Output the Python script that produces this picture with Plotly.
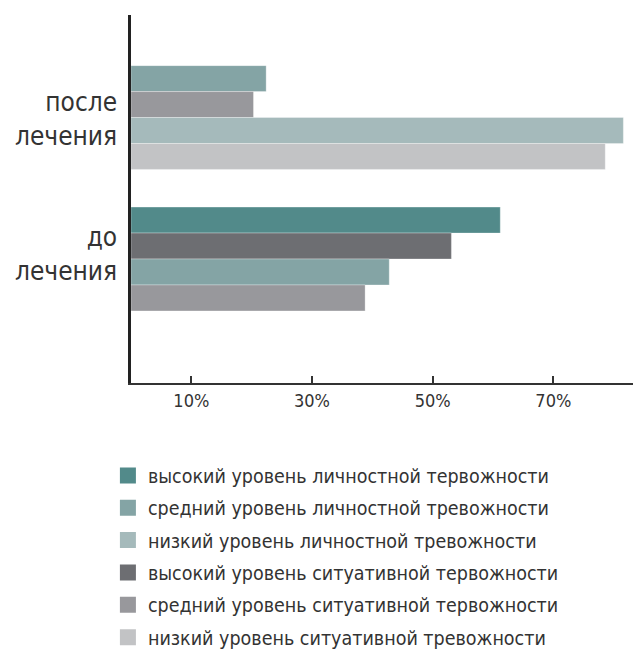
import plotly.graph_objects as go

categories = ["после лечения", "до лечения"]

# series in the order they are stacked inside each group (top to bottom)
series_names = [
    "высокий уровень личностной тервожности",
    "высокий уровень ситуативной тервожности",
    "средний уровень личностной тревожности",
    "средний уровень ситуативной тервожности",
    "низкий уровень личностной тревожности",
    "низкий уровень ситуативной тревожности",
]
# values for [после лечения, до лечения]
vals_high_pers = [0, 61.2]
vals_high_sit = [0, 53.1]
vals_mid_pers = [22.4, 42.8]
vals_mid_sit = [20.3, 38.8]
vals_low_pers = [81.6, 0]
vals_low_sit = [78.6, 0]
series_values = [vals_high_pers, vals_high_sit, vals_mid_pers, vals_mid_sit, vals_low_pers, vals_low_sit]
colors = ["#528a8a", "#6d6e72", "#84a4a5", "#98989c", "#a5babb", "#c2c3c5"]
legend_ranks = [1, 4, 2, 5, 3, 6]

tick_vals = [10, 30, 50, 70]
tick_text = ["10%", "30%", "50%", "70%"]

FONT = "Liberation Sans Narrow, DejaVu Sans Condensed, Roboto, sans-serif"

fig = go.Figure()
for i, (name, vals, col, rk) in enumerate(zip(series_names, series_values, colors, legend_ranks)):
    fig.add_trace(go.Bar(
        y=categories, x=vals, name=name, orientation="h",
        marker=dict(color=col, line=dict(color="rgba(255,255,255,0.6)", width=0.5)),
        showlegend=False, legendgroup=f"g{i}",
    ))
# legend entries with larger square swatches
for i, (name, col, rk) in enumerate(zip(series_names, colors, legend_ranks)):
    fig.add_trace(go.Scatter(
        x=[None], y=[None], mode="markers", name=name,
        marker=dict(symbol="square", size=16, color=col),
        legendrank=rk, legendgroup=f"g{i}", showlegend=True,
    ))

fig.update_layout(
    width=633, height=653,
    margin=dict(l=131, r=0, t=15, b=270, autoexpand=False),
    paper_bgcolor="white", plot_bgcolor="white",
    barmode="group", bargap=0.195, bargroupgap=0,
    font=dict(family=FONT, color="#333333"),
    showlegend=True,
    legend=dict(
        x=-0.046, xanchor="left", y=-0.199, yanchor="top",
        font=dict(size=19.5, family=FONT, color="#333333"),
        traceorder="grouped", tracegroupgap=4, itemwidth=30,
        itemsizing="trace",
    ),
    xaxis=dict(
        range=[0, 83.2], tickvals=tick_vals, ticktext=tick_text,
        ticks="inside", ticklen=7, tickwidth=1.5, tickcolor="#333333",
        showline=True, linecolor="#333333", linewidth=2,
        showgrid=False, zeroline=False,
        tickfont=dict(size=18, family=FONT, color="#333333"),
    ),
    yaxis=dict(
        type="category",
        range=[1.507, -0.396], showticklabels=False,
        showline=True, linecolor="#222222", linewidth=2.5,
        showgrid=False, zeroline=False, ticks="",
    ),
)

label_pos = [0.142, 0.84]
for cat, yp in zip(categories, label_pos):
    fig.add_annotation(
        x=0, xref="paper", y=yp, yref="y", xanchor="right", xshift=-12,
        text=cat.replace(" ", "<br>"), showarrow=False, align="right",
        font=dict(size=26, family=FONT, color="#333333"),
    )

fig.write_html("out.html")
